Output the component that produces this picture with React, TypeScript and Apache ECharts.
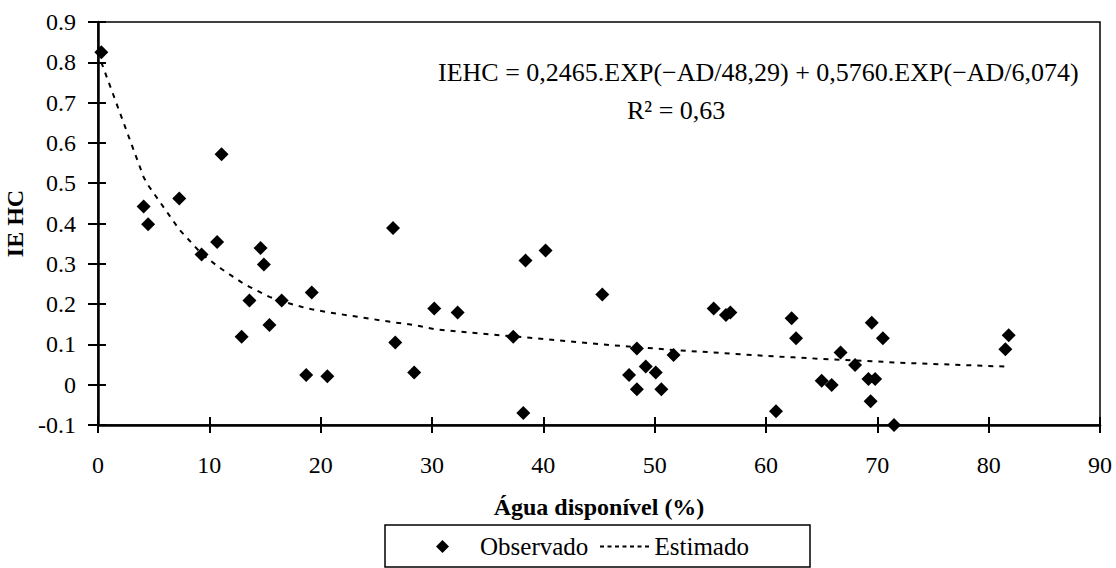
import React, { useEffect, useRef } from "react";
import * as echarts from "echarts";

// Observed points: água disponível (%) and IEHC
const obsX = [0.3, 4.1, 4.5, 7.3, 9.3, 10.7, 11.1, 12.9, 13.6, 14.6, 14.9, 15.4, 16.5, 18.7, 19.2, 20.6, 26.5, 26.7, 28.4, 30.2, 32.3, 37.3, 38.2, 38.4, 40.2, 45.3, 47.7, 48.4, 48.4, 49.2, 50.1, 50.6, 51.7, 55.3, 56.4, 56.8, 60.9, 62.3, 62.7, 65.0, 65.9, 66.7, 68.0, 69.2, 69.4, 69.5, 69.8, 70.5, 71.5, 81.5, 81.8];
const obsY = [0.825, 0.442, 0.398, 0.462, 0.323, 0.354, 0.572, 0.119, 0.209, 0.339, 0.298, 0.148, 0.209, 0.024, 0.229, 0.021, 0.389, 0.105, 0.030, 0.189, 0.179, 0.119, -0.070, 0.308, 0.333, 0.224, 0.024, 0.090, -0.011, 0.045, 0.030, -0.011, 0.074, 0.189, 0.173, 0.179, -0.066, 0.165, 0.115, 0.010, -0.001, 0.080, 0.049, 0.014, -0.041, 0.154, 0.014, 0.115, -0.100, 0.088, 0.123];

// Estimated curve
const estX = [0.3, 4.1, 4.5, 7.3, 9.3, 10.7, 11.1, 12.9, 13.6, 14.6, 15.4, 16.5, 18.7, 19.2, 20.6, 26.5, 28.4, 30.2, 32.3, 37.3, 38.3, 40.2, 45.3, 48.4, 50.1, 51.7, 55.3, 56.8, 60.9, 62.5, 65.0, 66.7, 68.0, 69.5, 70.5, 71.5, 81.5];
const estY = [0.80, 0.515, 0.495, 0.385, 0.325, 0.295, 0.287, 0.254, 0.243, 0.229, 0.218, 0.207, 0.19, 0.187, 0.18, 0.155, 0.148, 0.138, 0.132, 0.12, 0.118, 0.113, 0.1, 0.093, 0.09, 0.086, 0.08, 0.077, 0.07, 0.068, 0.064, 0.062, 0.06, 0.058, 0.057, 0.055, 0.045];

const xTicks = { min: 0, max: 90, interval: 10 };
const yTicks = { min: -0.1, max: 0.9, interval: 0.1 };

const seriesNames = ["Observado", "Estimado"];
const equationText = "IEHC = 0,2465.EXP(−AD/48,29) + 0,5760.EXP(−AD/6,074)";
const r2Text = "R² = 0,63";
const xName = "Água disponível (%)";
const yName = "IE HC";

const FONT = "'Liberation Serif', 'Times New Roman', serif";
// seven short dashes for the "Estimado" legend key
const DASH_ICON = "path://M0,0h4v2h-4zM7.5,0h4v2h-4zM15,0h4v2h-4zM22.5,0h4v2h-4zM30,0h4v2h-4zM37.5,0h4v2h-4zM45,0h4v2h-4z";

export default function App() {
  const ref = useRef<HTMLDivElement>(null);
  useEffect(() => {
    if (!ref.current) return;
    const chart = echarts.init(ref.current, undefined, { renderer: "svg" });
    const fmtY = (v: number) => {
      const r = Math.round(v * 10) / 10;
      if (Math.abs(r) < 1e-9) return "0";
      return r.toFixed(1);
    };
    const commonX = {
      type: "value",
      min: xTicks.min,
      max: xTicks.max,
      interval: xTicks.interval,
      splitLine: { show: false },
    };
    const commonY = {
      type: "value",
      min: yTicks.min,
      max: yTicks.max,
      interval: yTicks.interval,
      splitLine: { show: false },
    };
    const legendText = { fontFamily: FONT, fontSize: 25, color: "#000" };
    chart.setOption({
      animation: false,
      backgroundColor: "#ffffff",
      textStyle: { fontFamily: FONT, color: "#000" },
      grid: {
        left: 98,
        right: 16,
        top: 22,
        bottom: 143,
        show: true,
        borderColor: "#000",
        borderWidth: 1.5,
        containLabel: false,
        outerBoundsMode: "none",
      },
      xAxis: [
        {
          ...commonX,
          name: xName,
          nameLocation: "middle",
          nameGap: 70,
          nameTextStyle: { fontFamily: FONT, fontWeight: "bold", fontSize: 24, color: "#000" },
          axisLine: { show: true, onZero: false, lineStyle: { color: "#000", width: 2.5 } },
          axisTick: { show: true, inside: false, length: 8, lineStyle: { color: "#000", width: 2 } },
          axisLabel: { fontFamily: FONT, fontSize: 24, color: "#000", margin: 28 },
        },
        {
          ...commonX,
          position: "bottom",
          axisLine: { show: false, onZero: false },
          axisTick: { show: true, inside: true, length: 8, lineStyle: { color: "#000", width: 2 } },
          axisLabel: { show: false },
        },
      ],
      yAxis: [
        {
          ...commonY,
          name: yName,
          nameLocation: "middle",
          nameGap: 70,
          nameTextStyle: { fontFamily: FONT, fontWeight: "bold", fontSize: 24, color: "#000" },
          axisLine: { show: true, onZero: false, lineStyle: { color: "#000", width: 2.5 } },
          axisTick: { show: true, inside: false, length: 10, lineStyle: { color: "#000", width: 2 } },
          axisLabel: { fontFamily: FONT, fontSize: 24, color: "#000", margin: 22, formatter: fmtY },
        },
        {
          ...commonY,
          position: "left",
          axisLine: { show: false, onZero: false },
          axisTick: { show: true, inside: true, length: 8, lineStyle: { color: "#000", width: 2 } },
          axisLabel: { show: false },
        },
      ],
      legend: [
        {
          left: 436,
          top: 534,
          itemWidth: 13,
          itemHeight: 13,
          itemGap: 0,
          padding: 0,
          selectedMode: false,
          textStyle: { ...legendText, padding: [0, 0, 0, 26] },
          data: [{ name: seriesNames[0], icon: "diamond" }],
        },
        {
          left: 600,
          top: 534,
          itemWidth: 50,
          itemHeight: 2,
          itemGap: 0,
          padding: 0,
          selectedMode: false,
          textStyle: legendText,
          data: [{ name: seriesNames[1], icon: DASH_ICON }],
        },
      ],
      graphic: [
        {
          type: "rect",
          shape: { x: 385, y: 525, width: 425, height: 42 },
          style: { fill: "none", stroke: "#000", lineWidth: 1.5 },
          silent: true,
        },
        {
          type: "text",
          x: 438,
          y: 72,
          style: {
            text: equationText,
            font: `26px ${FONT}`,
            fill: "#000",
            verticalAlign: "middle",
          },
        },
        {
          type: "text",
          x: 627,
          y: 110,
          style: {
            text: r2Text,
            font: `26px ${FONT}`,
            fill: "#000",
            verticalAlign: "middle",
          },
        },
      ],
      series: [
        {
          name: seriesNames[0],
          type: "scatter",
          symbol: "diamond",
          symbolSize: 14,
          itemStyle: { color: "#000", opacity: 1 },
          data: obsX.map((x, i) => [x, obsY[i]]),
          z: 3,
        },
        {
          name: seriesNames[1],
          type: "line",
          showSymbol: false,
          symbol: "none",
          smooth: false,
          lineStyle: { color: "#000", width: 2, type: [5, 6] },
          itemStyle: { color: "#000" },
          data: estX.map((x, i) => [x, estY[i]]),
          z: 2,
        },
      ],
    });
    return () => chart.dispose();
  }, []);
  return (
    <div
      ref={ref}
      style={{ position: "fixed", left: 0, top: 0, width: 1116, height: 568, background: "#fff" }}
    />
  );
}
